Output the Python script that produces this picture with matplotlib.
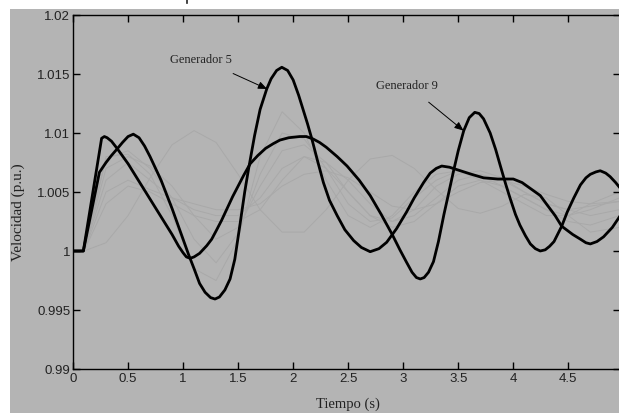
import matplotlib
matplotlib.use("Agg")
import matplotlib.pyplot as plt
from matplotlib.patches import Rectangle
from matplotlib.lines import Line2D

# ---------------- data ----------------
t_gen5 = [0.0, 0.094, 0.24, 0.30, 0.35, 0.40, 0.45, 0.50, 0.548, 0.60, 0.65, 0.70,
          0.75, 0.80, 0.85, 0.90, 0.95, 1.00, 1.05, 1.10, 1.15, 1.20, 1.25, 1.29,
          1.33, 1.38, 1.427, 1.47, 1.518, 1.56, 1.594, 1.65, 1.70, 1.76, 1.80,
          1.85, 1.897, 1.95, 2.00, 2.05, 2.09, 2.13, 2.17, 2.22, 2.275, 2.33,
          2.40, 2.47, 2.55, 2.62, 2.70, 2.78, 2.85, 2.94, 3.03, 3.10, 3.185,
          3.245, 3.30, 3.35, 3.42, 3.52, 3.62, 3.73, 3.86, 4.00, 4.08, 4.155,
          4.245, 4.30, 4.38, 4.44, 4.54, 4.61, 4.66, 4.70, 4.76, 4.82, 4.90, 4.965]
v_gen5 = [1.0, 1.0, 1.00667, 1.0075, 1.0081, 1.00864, 1.0092, 1.0097, 1.0099, 1.0096,
          1.0089, 1.0080, 1.0070, 1.0060, 1.0048, 1.0036, 1.0023, 1.0010, 0.9997,
          0.9985, 0.99725, 0.9965, 0.99605, 0.99593, 0.9961, 0.9967, 0.99763,
          0.9993, 1.0023, 1.0050, 1.0069, 1.0098, 1.0120, 1.01373, 1.0146, 1.0153,
          1.01557, 1.0153, 1.0145, 1.0132, 1.0120, 1.0108, 1.0095, 1.0077, 1.0058,
          1.0043, 1.0030, 1.0018, 1.00088, 1.0003, 0.99994, 1.0002, 1.00074, 1.0019,
          1.0033, 1.0045, 1.0058, 1.0066, 1.0070, 1.0072, 1.0071, 1.0068, 1.0065,
          1.0062, 1.0061, 1.0061, 1.0058, 1.0053, 1.0047, 1.0040, 1.0030, 1.0021,
          1.0014, 1.0010, 1.0007, 1.0006, 1.0008, 1.0012, 1.0020, 1.0029]

t_gen9 = [0.0, 0.094, 0.26, 0.285, 0.31, 0.35, 0.40, 0.50, 0.60, 0.70, 0.80, 0.90,
          0.96, 1.00, 1.03, 1.064, 1.10, 1.15, 1.215, 1.26, 1.30, 1.35, 1.40, 1.45,
          1.50, 1.55, 1.61, 1.68, 1.75, 1.82, 1.88, 1.96, 2.06, 2.12, 2.18, 2.24,
          2.30, 2.40, 2.49, 2.60, 2.70, 2.80, 2.90, 2.97, 3.03, 3.08, 3.12, 3.155,
          3.19, 3.23, 3.275, 3.32, 3.37, 3.42, 3.46, 3.50, 3.55, 3.60, 3.65, 3.69,
          3.73, 3.79, 3.84, 3.88, 3.93, 3.97, 4.02, 4.06, 4.11, 4.155, 4.20, 4.245,
          4.29, 4.33, 4.37, 4.44, 4.49, 4.55, 4.61, 4.66, 4.70, 4.75, 4.79, 4.84,
          4.88, 4.93, 4.965]
v_gen9 = [1.0, 1.0, 1.00955, 1.0097, 1.0096, 1.0093, 1.0087, 1.0074, 1.0059, 1.0044,
          1.0029, 1.0014, 1.0004, 0.99985, 0.9995, 0.99938, 0.9995, 0.9998, 1.00045,
          1.0010, 1.0017, 1.0026, 1.0036, 1.0046, 1.0055, 1.0064, 1.0074, 1.0081,
          1.0087, 1.0091, 1.0094, 1.0096, 1.0097, 1.0097, 1.0095, 1.0092, 1.0088,
          1.0080, 1.0072, 1.0060, 1.0047, 1.0031, 1.0014, 1.0001, 0.99905, 0.9982,
          0.99775, 0.99763, 0.99775, 0.9982, 0.9991, 1.0008, 1.0031, 1.0052, 1.0069,
          1.0085, 1.0102, 1.0113, 1.01175, 1.01165, 1.0112, 1.0100, 1.0086, 1.0073,
          1.0057, 1.0045, 1.0031, 1.0022, 1.0013, 1.0006, 1.0002, 1.0000, 1.0001,
          1.0004, 1.0008, 1.0021, 1.0033, 1.0045, 1.0056, 1.0062, 1.0065, 1.0067,
          1.0068, 1.0066, 1.0063, 1.0058, 1.0054]

# faint curves (other generators)
t_other = [0.0, 0.1, 0.3, 0.5, 0.7, 0.9, 1.1, 1.3, 1.5, 1.7, 1.9, 2.1, 2.3, 2.5,
           2.7, 2.9, 3.1, 3.3, 3.5, 3.7, 3.9, 4.1, 4.3, 4.5, 4.7, 4.965]
v_other1 = [1.0, 1.0, 1.0007, 1.0030, 1.0062, 1.0090, 1.0102, 1.0092, 1.0065, 1.0035,
            1.0016, 1.0016, 1.0035, 1.0060, 1.0078, 1.0081, 1.0070, 1.0052, 1.0036,
            1.0032, 1.0038, 1.0048, 1.0045, 1.0030, 1.0016, 1.0020]
v_other2 = [1.0, 1.0, 1.0080, 1.0082, 1.0065, 1.0030, 0.9985, 0.9975, 1.0010, 1.0080,
            1.0118, 1.0100, 1.0060, 1.0030, 1.0020, 1.0030, 1.0050, 1.0065, 1.0068,
            1.0060, 1.0050, 1.0040, 1.0030, 1.0030, 1.0040, 1.0050]
v_other3 = [1.0, 1.0, 1.0078, 1.0085, 1.0070, 1.0045, 1.0010, 0.9990, 1.0015, 1.0065,
            1.0100, 1.0095, 1.0070, 1.0040, 1.0025, 1.0028, 1.0045, 1.0060, 1.0068,
            1.0064, 1.0055, 1.0045, 1.0035, 1.0030, 1.0035, 1.0045]
v_other4 = [1.0, 1.0, 1.0070, 1.0080, 1.0072, 1.0055, 1.0030, 1.0010, 1.0020, 1.0055,
            1.0085, 1.0090, 1.0075, 1.0050, 1.0030, 1.0025, 1.0035, 1.0055, 1.0065,
            1.0068, 1.0062, 1.0050, 1.0040, 1.0035, 1.0038, 1.0042]
v_other5 = [1.0, 1.0, 1.0060, 1.0075, 1.0060, 1.0045, 1.0035, 1.0030, 1.0030, 1.0045,
            1.0070, 1.0080, 1.0075, 1.0060, 1.0040, 1.0025, 1.0030, 1.0045, 1.0060,
            1.0065, 1.0060, 1.0050, 1.0040, 1.0035, 1.0030, 1.0035]
v_other6 = [1.0, 1.0, 1.0050, 1.0060, 1.0052, 1.0045, 1.0040, 1.0035, 1.0035, 1.0040,
            1.0055, 1.0065, 1.0068, 1.0062, 1.0050, 1.0038, 1.0035, 1.0040, 1.0050,
            1.0058, 1.0060, 1.0055, 1.0048, 1.0042, 1.0040, 1.0042]
v_other7 = [1.0, 1.0, 1.0040, 1.0055, 1.0050, 1.0040, 1.0030, 1.0025, 1.0025, 1.0035,
            1.0060, 1.0080, 1.0070, 1.0050, 1.0030, 1.0020, 1.0025, 1.0040, 1.0055,
            1.0060, 1.0055, 1.0045, 1.0035, 1.0025, 1.0022, 1.0030]
other_series = [v_other1, v_other2, v_other3, v_other4, v_other5, v_other6, v_other7]

x_ticks = [0, 0.5, 1, 1.5, 2, 2.5, 3, 3.5, 4, 4.5]
x_tick_labels = ["0", "0.5", "1", "1.5", "2", "2.5", "3", "3.5", "4", "4.5"]
y_ticks = [0.99, 0.995, 1.0, 1.005, 1.01, 1.015, 1.02]
y_tick_labels = ["0.99", "0.995", "1", "1.005", "1.01", "1.015", "1.02"]

label_gen5 = "Generador 5"
label_gen9 = "Generador 9"
x_label = "Tiempo (s)"
y_label = "Velocidad (p.u.)"

# ---------------- figure ----------------
W, H = 619, 414
fig = plt.figure(figsize=(W / 100, H / 100), dpi=100, facecolor="white")
bg = "#b4b4b4"
fig.patches.append(Rectangle((10 / W, 0), 1 - 10 / W, 1 - 10 / H,
                             transform=fig.transFigure, facecolor=bg,
                             edgecolor="none", zorder=-5))
fig.lines.append(Line2D([187 / W, 187 / W], [1 - 0 / H, 1 - 4 / H],
                        transform=fig.transFigure, color="#222222", lw=1.2,
                        zorder=-4))

ax = fig.add_axes([73 / W, (H - 370) / H, (619.5 - 73) / W, (370 - 16) / H])
ax.set_zorder(1)
ax.set_facecolor(bg)

for vs in other_series:
    ax.plot(t_other, vs, color="#a9a9a9", lw=0.7, zorder=1)

ax.plot(t_gen5, v_gen5, color="black", lw=2.0, zorder=3, solid_joinstyle="round")
ax.plot(t_gen9, v_gen9, color="black", lw=2.0, zorder=3, solid_joinstyle="round")

ax.set_xlim(0, 4.965)
ax.set_ylim(0.99, 1.02)
ax.set_xticks(x_ticks)
ax.set_xticklabels(x_tick_labels)
ax.set_yticks(y_ticks)
ax.set_yticklabels(y_tick_labels)
ax.tick_params(direction="in", length=5, width=1, top=True, right=True,
               labelsize=9.5, labelcolor="#222222", pad=2,
               labelfontfamily="Liberation Sans")
for s in ax.spines.values():
    s.set_linewidth(1.0)
    s.set_color("black")

serif = ["Liberation Serif", "DejaVu Serif"]
ax.annotate(label_gen5, xy=(1.764, 1.01373), xytext=(1.164, 1.01627),
            ha="center", va="center", fontsize=9, family=serif, color="#222222",
            arrowprops=dict(arrowstyle="-|>,head_length=0.6,head_width=0.25",
                            color="black", lw=0.7, shrinkA=10, shrinkB=0))
ax.annotate(label_gen9, xy=(3.548, 1.0102), xytext=(3.036, 1.0141),
            ha="center", va="center", fontsize=9, family=serif, color="#222222",
            arrowprops=dict(arrowstyle="-|>,head_length=0.6,head_width=0.25",
                            color="black", lw=0.7, shrinkA=10, shrinkB=0))

fig.text(348 / W, 1 - 404 / H, x_label, ha="center", va="center",
         fontsize=10.5, family=serif, color="#222222")
fig.text(18 / W, 1 - 212 / H, y_label, ha="center", va="center",
         rotation=90, fontsize=11, family=serif, color="#222222")

fig.savefig("out.png", dpi=100, facecolor="white")
